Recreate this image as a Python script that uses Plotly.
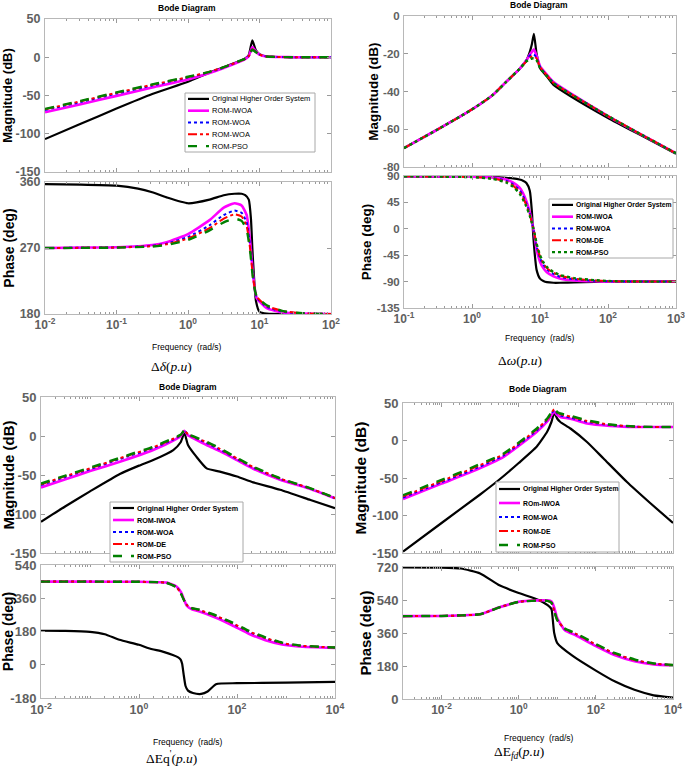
import plotly.graph_objects as go

W, H = 685, 768

# ================= DATA =================
# ---- Panel 1 : delta-delta ----
p1_names = ["Original Higher Order System", "ROM-IWOA", "ROM-WOA", "ROM-WOA", "ROM-PSO"]
p1_mag_freq = [0.01, 0.0316, 0.1, 0.316, 1, 2.0, 3.16, 5.01, 6.31, 7.08, 7.94, 8.91, 10, 12.6, 20, 31.6, 100]
p1_mag_orig = [-107, -87, -67, -48, -32, -20, -13, -6, -1.5, 3, 22, 9, 4, 1, 0.3, 0, 0]
p1_mag_iwoa = [-72, -61.5, -50.5, -39.5, -29, -20.5, -14, -6.5, -2.5, 1.5, 13.5, 7.5, 3.5, 1, 0.3, 0, 0]
p1_mag_woa = [-69, -58.5, -47.5, -37, -26.5, -19.5, -13.5, -6, -2.3, 1.5, 11, 7, 3.5, 1, 0.3, 0, 0]
p1_mag_de = [-68, -57.5, -46.5, -36, -26, -19, -13, -6, -2.2, 1.5, 10.5, 6.8, 3.5, 1, 0.3, 0, 0]
p1_mag_pso = [-67.5, -57, -46, -35.5, -25.5, -19, -13, -5.5, -2, 1.5, 10, 6.5, 3.5, 1, 0.3, 0, 0]
p1_ph_freq_orig = [0.01, 0.0316, 0.1, 0.2, 0.316, 0.501, 1, 2.0, 3.16, 4.47, 5.62, 6.31, 7.08, 7.59, 7.94, 8.32, 8.91, 10, 12.6, 31.6, 100]
p1_ph_orig = [357, 356.5, 355, 351, 346, 339, 331, 336, 342, 344, 344, 342, 336, 310, 270, 235, 198, 183, 180.5, 180, 180]
p1_ph_freq_rom = [0.01, 0.0316, 0.1, 0.316, 0.501, 1, 2.0, 3.16, 4.47, 5.62, 6.61, 7.41, 8.13, 9.12, 12.6, 21.4, 39.8, 100]
p1_ph_iwoa = [270, 270.5, 271, 274, 278, 289, 308, 325, 331, 328, 315, 278, 233, 202, 188, 182, 180.5, 180]
p1_ph_woa = [270, 270.3, 270.8, 273, 276, 285, 301, 315, 321, 318, 305, 272, 232, 203, 190, 183, 181, 180]
p1_ph_de = [270, 270.2, 270.6, 272.5, 275, 283, 297, 310, 316, 313, 300, 268, 230, 204, 191, 184, 181, 180]
p1_ph_pso = [270, 270.2, 270.5, 272, 274, 281, 294, 305, 310, 307, 295, 265, 228, 204, 192, 184, 181, 180]

# ---- Panel 2 : delta-omega ----
p2_names = ["Original Higher Order System", "ROM-IWOA", "ROM-WOA", "ROM-DE", "ROM-PSO"]
p2_mag_freq = [0.1, 0.316, 1, 2.0, 3.16, 5.01, 6.31, 7.08, 7.59, 8.13, 8.91, 10, 12.6, 15.8, 28.2, 100, 316, 1000]
p2_mag_orig = [-70, -60, -49.5, -42, -35, -28, -23.5, -19, -15, -9.5, -20, -27.5, -32, -36.5, -42.5, -54, -63.5, -73]
p2_mag_iwoa = [-70, -60, -49.5, -42, -35, -28, -23.5, -20.5, -19, -17.7, -21, -26.5, -31, -35, -41, -53, -63, -72.7]
p2_mag_woa = [-70, -60, -49.5, -42, -35, -28, -23.5, -21, -20.5, -20.5, -22, -27, -31.5, -35.3, -41.2, -53, -63, -72.7]
p2_mag_de = [-70, -60, -49.5, -42, -35, -28, -24, -22, -21.5, -21.5, -22.5, -27, -31.5, -35.5, -41.3, -53, -63, -72.7]
p2_mag_pso = [-70, -60, -49.5, -42, -35, -28, -24, -23, -22.5, -22.4, -23.5, -27.5, -31.7, -35.6, -41.4, -53, -63, -72.7]
p2_ph_freq = [0.1, 0.316, 1, 2.0, 3.16, 3.98, 5.01, 5.62, 6.31, 7.08, 7.59, 7.94, 8.32, 8.91, 10, 11.2, 12.6, 15.8, 20, 31.6, 63.1, 100, 316, 1000]
p2_ph_orig = [89.5, 89, 88.5, 88, 87, 86, 84, 82, 78, 65, 30, -10, -40, -70, -85, -89, -91, -92, -92, -91.5, -90.5, -90, -90, -90]
p2_ph_iwoa = [89.5, 89.2, 88.7, 87.5, 84, 79, 70, 61, 47, 28, 13, 2, -12, -35, -56, -67, -74, -81, -85, -88, -89.5, -90, -90, -90]
p2_ph_woa = [89.5, 89, 88.5, 86.5, 82, 76, 66, 56, 43, 26, 12, 2, -10, -30, -50, -61, -69, -77, -82, -86, -88.5, -89.5, -90, -90]
p2_ph_de = [89.5, 89, 88.3, 86, 80.5, 74, 63, 53, 40, 24, 11, 2, -9, -27, -47, -59, -67, -75, -80, -85, -88, -89.3, -90, -90]
p2_ph_pso = [89.5, 89, 88, 85, 79, 72, 60, 50, 38, 22, 10, 2, -8, -25, -45, -57, -65, -74, -79, -84, -87.5, -89, -90, -90]

# ---- Panel 3 : delta-Eq' ----
p3_names = ["Original Higher Order System", "ROM-IWOA", "ROM-WOA", "ROM-DE", "ROM-PSO"]
p3_mag_freq_orig = [0.01, 0.0316, 0.1, 0.407, 1, 1.95, 5.01, 7.08, 8.41, 10, 14.8, 24.0, 44.7, 100, 214, 759, 3162, 10000]
p3_mag_orig = [-110, -90, -71, -48.7, -38, -30.8, -18, -8, 4, -11.5, -26.5, -41.5, -45.7, -52, -59.4, -69, -82, -92.5]
p3_mag_freq_rom = [0.01, 0.0316, 0.1, 0.407, 1.95, 5.01, 7.08, 8.41, 10, 24.0, 44.7, 100, 214, 759, 3162, 10000]
p3_mag_iwoa = [-66, -55.5, -45, -33, -18, -6, 0, 6.8, 1, -11.5, -19.5, -31, -42, -56, -68, -80]
p3_mag_woa = [-63, -52.5, -42.5, -29.5, -15.5, -4.5, 1, 6.9, 2, -9, -17.5, -29.5, -40.5, -55, -67.5, -79.7]
p3_mag_de = [-62, -51.5, -41.5, -28.5, -14.5, -3.5, 1.3, 7, 2.3, -8, -16.5, -28.7, -39.8, -54.6, -67.2, -79.5]
p3_mag_pso = [-61, -50.7, -40.5, -27.8, -13.7, -3, 1.5, 7, 2.5, -7.3, -15.8, -28, -39.3, -54.3, -67, -79.5]
p3_ph_freq_orig = [0.01, 0.0316, 0.1, 0.2, 0.398, 1, 1.58, 3.16, 4.9, 6.31, 7.08, 7.59, 8.13, 8.91, 10, 12.6, 18.6, 25.1, 37.2, 100, 1000, 10000]
p3_ph_orig = [184, 183, 178, 165, 135, 108, 89, 70, 53, 40, 28, 5, -50, -115, -140, -153, -158, -145, -105, -100, -97, -93]
p3_ph_freq_rom = [0.01, 0.1, 1, 2.51, 3.63, 5.75, 7.24, 8.32, 9.55, 12.0, 16.6, 36.3, 79.4, 174, 380, 832, 1820, 10000]
p3_ph_iwoa = [450, 450, 449, 447, 445, 425, 392, 352, 318, 300, 290, 256, 214, 168, 133, 110, 99, 91]
p3_ph_woa = [450, 450, 449, 447, 444, 422, 386, 350, 323, 305, 296, 264, 224, 179, 143, 116, 103, 93]
p3_ph_de = [450, 450, 449, 447, 444, 421, 384, 349, 323, 306, 297, 266, 226, 181, 145, 118, 104, 93]
p3_ph_pso = [450, 450, 449, 447, 443, 420, 382, 348, 324, 307, 299, 268, 229, 184, 148, 120, 105, 93]

# ---- Panel 4 : delta-Efd ----
p4_names = ["Original Higher Order System", "ROm-IWOA", "ROM-WOA", "ROM-DE", "ROM-PSO"]
p4_mag_freq_orig = [0.001, 0.01, 0.1, 0.316, 1, 2.95, 5.5, 7.08, 8.32, 10, 12.0, 21.9, 58.9, 158, 631, 2512, 10000]
p4_mag_orig = [-148, -110, -72, -52, -30, -8, 12, 25, 37, 29, 24.7, 16, -2, -24, -55, -83, -110]
p4_mag_freq_rom = [0.001, 0.01, 0.055, 0.407, 2.95, 5.62, 8.32, 10, 12.0, 21.9, 58.9, 234, 1148, 10000]
p4_mag_iwoa = [-78, -57.5, -42.5, -21.7, 11.5, 26, 38.5, 34, 31.4, 29, 22.6, 19.5, 18, 18]
p4_mag_woa = [-76, -55.5, -40.5, -19.8, 13.5, 28, 40.5, 36, 33.5, 30.5, 25, 20.5, 18.2, 18]
p4_mag_de = [-74.5, -54, -38.5, -18.3, 15, 29, 41.5, 37, 35, 32, 26, 21, 18.3, 18]
p4_mag_pso = [-73, -52.5, -37, -17.3, 16, 30, 42.5, 38, 36, 33, 27, 21.3, 18.5, 18]
p4_ph_freq_orig = [0.001, 0.01, 0.0316, 0.1, 0.316, 1, 3.16, 5.62, 7.08, 7.59, 8.32, 10, 25.1, 100, 316, 1000, 3162, 10000]
p4_ph_orig = [718, 717, 712, 685, 620, 578, 542, 512, 490, 440, 360, 305, 235, 155, 95, 50, 20, 8]
p4_ph_freq_rom = [0.001, 0.01, 0.0316, 0.1, 0.316, 1, 3.16, 5.62, 7.08, 8.32, 10, 15.8, 31.6, 100, 316, 1000, 3162, 10000]
p4_ph_iwoa = [452, 453, 456, 462, 500, 530, 538, 538, 532, 500, 440, 375, 345, 288, 238, 206, 189, 183]
p4_ph_woa = [452, 453, 456, 462, 500, 530, 537, 535, 525, 480, 430, 380, 352, 295, 245, 212, 192, 185]
p4_ph_de = [452, 453, 456, 462, 500, 530, 537, 535, 525, 480, 430, 382, 354, 297, 247, 213, 193, 185]
p4_ph_pso = [452, 453, 456, 462, 500, 530, 537, 535, 525, 480, 430, 385, 357, 300, 250, 216, 194, 186]

# ================= STYLE =================
SANS = "Liberation Sans, Arial, sans-serif"
SERIF = "Liberation Serif, Times New Roman, serif"
styles = [
    dict(color="#000000", width=2.2, dash="solid"),
    dict(color="#ff00ff", width=2.6, dash="solid"),
    dict(color="#0000ff", width=2.0, dash="dot"),
    dict(color="#ff0000", width=2.0, dash="dashdot"),
    dict(color="#008000", width=2.4, dash="dash"),
]
styles_p2 = styles[:4] + [dict(color="#008000", width=2.4, dash="dot")]


def px_x(x):
    return x / W


def px_y(y):
    return 1 - y / H


def dom_x(l, r):
    return [l / W, r / W]


def dom_y(t, b):
    return [1 - b / H, 1 - t / H]


def sup(e):
    return "10<sup>%d</sup>" % e


panels = [
    dict(names=p1_names, st=styles,
         mag_box=(45, 19, 331, 172), ph_box=(45, 182, 331, 314), xr=(-2, 2), lab=[-2, -1, 0, 1, 2],
         mag_rng=(-150, 50), mag_t=[-150, -100, -50, 0, 50], ph_rng=(180, 360), ph_t=[180, 270, 360],
         mag=[(p1_mag_freq, p1_mag_orig), (p1_mag_freq, p1_mag_iwoa), (p1_mag_freq, p1_mag_woa),
              (p1_mag_freq, p1_mag_de), (p1_mag_freq, p1_mag_pso)],
         ph=[(p1_ph_freq_orig, p1_ph_orig), (p1_ph_freq_rom, p1_ph_iwoa), (p1_ph_freq_rom, p1_ph_woa),
             (p1_ph_freq_rom, p1_ph_de), (p1_ph_freq_rom, p1_ph_pso)],
         fs=12.5, xfs=12, mag_ts=13, ph_ts=14,
         bode=(187, 8), freq=(187, 347), label=("Δ<i>δ</i>(<i>p.u</i>)", 171, 366),
         leg=dict(box=(185, 93, 315, 152), bold=False, size=7.5)),
    dict(names=p2_names, st=styles_p2,
         mag_box=(404, 16, 676, 167), ph_box=(404, 176, 676, 308), xr=(-1, 3), lab=[-1, 0, 1, 2, 3],
         mag_rng=(-80, 0), mag_t=[-80, -60, -40, -20, 0], ph_rng=(-135, 90), ph_t=[-135, -90, -45, 0, 45, 90],
         mag=[(p2_mag_freq, p2_mag_orig), (p2_mag_freq, p2_mag_iwoa), (p2_mag_freq, p2_mag_woa),
              (p2_mag_freq, p2_mag_de), (p2_mag_freq, p2_mag_pso)],
         ph=[(p2_ph_freq, p2_ph_orig), (p2_ph_freq, p2_ph_iwoa), (p2_ph_freq, p2_ph_woa),
             (p2_ph_freq, p2_ph_de), (p2_ph_freq, p2_ph_pso)],
         fs=11.5, xfs=12, mag_ts=13.5, ph_ts=13.5,
         bode=(539, 5), freq=(540, 338), label=("Δ<i>ω</i>(<i>p.u</i>)", 520, 360),
         leg=dict(box=(549, 199, 673, 258), bold=True, size=6.8)),
    dict(names=p3_names, st=styles,
         mag_box=(41, 397, 335, 553), ph_box=(41, 565, 335, 698), xr=(-2, 4), lab=[-2, 0, 2, 4],
         mag_rng=(-150, 50), mag_t=[-150, -100, -50, 0, 50], ph_rng=(-180, 540), ph_t=[-180, 0, 180, 360, 540],
         mag=[(p3_mag_freq_orig, p3_mag_orig), (p3_mag_freq_rom, p3_mag_iwoa), (p3_mag_freq_rom, p3_mag_woa),
              (p3_mag_freq_rom, p3_mag_de), (p3_mag_freq_rom, p3_mag_pso)],
         ph=[(p3_ph_freq_orig, p3_ph_orig), (p3_ph_freq_rom, p3_ph_iwoa), (p3_ph_freq_rom, p3_ph_woa),
             (p3_ph_freq_rom, p3_ph_de), (p3_ph_freq_rom, p3_ph_pso)],
         fs=13, xfs=12.5, mag_ts=15, ph_ts=14,
         bode=(188, 387), freq=(188, 742), label=("ΔEq<sup>'</sup>(<i>p.u</i>)", 171, 757),
         leg=dict(box=(110, 502, 243, 562), bold=True, size=7.2)),
    dict(names=p4_names, st=styles,
         mag_box=(403, 403, 673, 553), ph_box=(403, 567, 673, 699), xr=(-3, 4), lab=[-2, 0, 2, 4],
         mag_rng=(-150, 50), mag_t=[-150, -100, -50, 0, 50], ph_rng=(0, 720), ph_t=[0, 180, 360, 540, 720],
         mag=[(p4_mag_freq_orig, p4_mag_orig), (p4_mag_freq_rom, p4_mag_iwoa), (p4_mag_freq_rom, p4_mag_woa),
              (p4_mag_freq_rom, p4_mag_de), (p4_mag_freq_rom, p4_mag_pso)],
         ph=[(p4_ph_freq_orig, p4_ph_orig), (p4_ph_freq_rom, p4_ph_iwoa), (p4_ph_freq_rom, p4_ph_woa),
             (p4_ph_freq_rom, p4_ph_de), (p4_ph_freq_rom, p4_ph_pso)],
         fs=13, xfs=12, mag_ts=15.5, ph_ts=15,
         bode=(538, 389), freq=(539, 738), label=("ΔE<sub><i>fd</i></sub>(<i>p.u</i>)", 519, 752),
         leg=dict(box=(496, 482, 619, 552), bold=True, size=6.8)),
]

fig = go.Figure()
layout = dict(template="none", width=W, height=H, margin=dict(l=0, r=0, t=0, b=0, pad=0),
              autosize=False, paper_bgcolor="white", plot_bgcolor="white", showlegend=False)
annotations = []
shapes = []

FRAME = "#b8b8b8"
TICKC = "#9a9a9a"
LABC = "#606060"

k = 0
for p in panels:
    lo, hi = p["xr"]
    major = [10.0 ** e for e in p["lab"]]
    major_txt = [sup(e) for e in p["lab"]]
    minor = [m * 10.0 ** e for e in range(lo, hi) for m in range(1, 10)
             if not (m == 1 and e in p["lab"])]
    for part in ("mag", "ph"):
        k += 1
        box = p[part + "_box"]
        sfx = "" if k == 1 else str(k)
        is_ph = part == "ph"
        layout["xaxis" + sfx] = dict(
            domain=dom_x(box[0], box[2]), anchor="y" + sfx, type="log", range=[lo, hi],
            automargin=False, ticklabeloverflow="allow",
            tickmode="array", tickvals=major, ticktext=major_txt, showticklabels=is_ph,
            ticks="inside", ticklen=4, tickcolor=TICKC, showline=True, linecolor=FRAME, linewidth=1,
            mirror="ticks", showgrid=False, zeroline=False,
            tickfont=dict(family=SANS, size=p["xfs"], color=LABC, weight="bold"),
            minor=dict(tickmode="array", tickvals=minor, ticks="inside", ticklen=2, tickcolor=TICKC,
                       showgrid=False),
        )
        rng = p[part + "_rng"]
        tv = p[part + "_t"]
        layout["yaxis" + sfx] = dict(
            domain=dom_y(box[1], box[3]), anchor="x" + sfx, range=list(rng),
            automargin=False,
            tickmode="array", tickvals=tv, ticktext=[str(v) for v in tv],
            ticks="inside", ticklen=4, tickcolor=TICKC, showline=True, linecolor=FRAME, linewidth=1,
            mirror="ticks", showgrid=False, zeroline=False, ticklabelstandoff=1,
            tickfont=dict(family=SANS, size=p["fs"], color=LABC, weight="bold"),
            title=dict(text="Magnitude (dB)" if part == "mag" else "Phase (deg)", standoff=1,
                       font=dict(family=SANS, size=p[part + "_ts"], color="black", weight="bold")),
        )
        for (xs, ys), st, nm in zip(p[part], p["st"], p["names"]):
            fig.add_trace(go.Scatter(
                x=xs, y=ys, mode="lines", name=nm, xaxis="x" + sfx, yaxis="y" + sfx,
                line=dict(color=st["color"], width=st["width"], dash=st["dash"],
                          shape="spline", smoothing=0.5),
                hoverinfo="skip"))
    # titles / labels
    bx, by = p["bode"]
    annotations.append(dict(text="Bode Diagram", x=px_x(bx), y=px_y(by), xref="paper", yref="paper",
                            showarrow=False, xanchor="center", yanchor="middle",
                            font=dict(family=SANS, size=8.5, color="black", weight="bold")))
    fx, fy = p["freq"]
    annotations.append(dict(text="Frequency  (rad/s)", x=px_x(fx), y=px_y(fy), xref="paper", yref="paper",
                            showarrow=False, xanchor="center", yanchor="middle",
                            font=dict(family=SANS, size=8.5, color="black")))
    lt, lx, ly = p["label"]
    annotations.append(dict(text=lt, x=px_x(lx), y=px_y(ly), xref="paper", yref="paper",
                            showarrow=False, xanchor="center", yanchor="middle",
                            font=dict(family=SERIF, size=13.5, color="black")))
    # legend (drawn as a boxed key)
    lg = p["leg"]
    l, t, r, b = lg["box"]
    shapes.append(dict(type="rect", xref="paper", yref="paper", x0=px_x(l), x1=px_x(r),
                       y0=px_y(b), y1=px_y(t), fillcolor="white", line=dict(color="#a8a8a8", width=1),
                       layer="above"))
    rowh = (b - t) / 5.0
    for i, (st, nm) in enumerate(zip(p["st"], p["names"])):
        yy = t + (i + 0.5) * rowh
        shapes.append(dict(type="line", xref="paper", yref="paper", x0=px_x(l + 3), x1=px_x(l + 24),
                           y0=px_y(yy), y1=px_y(yy), layer="above",
                           line=dict(color=st["color"], width=st["width"], dash=st["dash"])))
        annotations.append(dict(text=nm, x=px_x(l + 25), y=px_y(yy), xref="paper", yref="paper",
                                showarrow=False, xanchor="left", yanchor="middle",
                                font=dict(family=SANS, size=lg["size"], color="black",
                                          weight="bold" if lg["bold"] else "normal")))

layout["annotations"] = annotations
layout["shapes"] = shapes
fig.update_layout(**layout)
fig.write_html("out.html", config={"displayModeBar": False},
               post_script="document.body.style.margin='0';document.body.style.overflow='hidden';")
